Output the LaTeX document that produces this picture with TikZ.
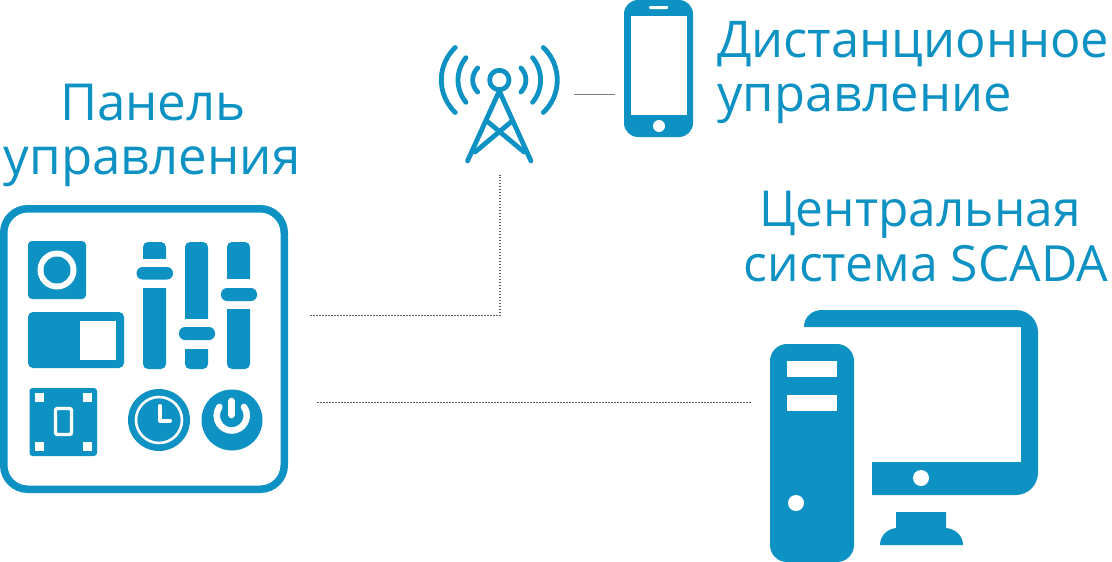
\documentclass[tikz,border=0pt]{standalone}
\usepackage{fontspec}
\setmainfont{Open Sans}
\definecolor{brand}{HTML}{0E92C3}
\definecolor{wire}{HTML}{5E5E5E}
\tikzset{
  solid blue/.style={fill=brand,draw=none},
  knockout/.style={fill=white,draw=none},
  blue line/.style={draw=brand,line width=4.8pt,line cap=round,line join=round},
  label text/.style={text=brand,inner sep=0pt,anchor=base},
  dotted wire/.style={draw=wire,line width=1.2pt,dash pattern=on 1.5pt off 1.5pt},
  plain wire/.style={draw=wire!80,line width=1pt}
}
\begin{document}
\begin{tikzpicture}[x=1pt,y=-1pt]
\useasboundingbox (0,0) rectangle (1112,562);
% labels
\node[label text,font=\fontsize{51}{51}\selectfont] (t1) at (153,120) {Панель};
\node[label text,font=\fontsize{51}{51}\selectfont] (t2) at (152,174) {управления};
\node[label text,anchor=base west,font=\fontsize{50.6}{51}\selectfont] (t3) at (717,57) {Дистанционное};
\node[label text,anchor=base west,font=\fontsize{50.6}{51}\selectfont] (t4) at (717,111) {управление};
\node[label text,font=\fontsize{49.6}{51}\selectfont] (t5) at (920,226) {Центральная};
\node[label text,font=\fontsize{49.9}{51}\selectfont] (t6) at (926,281) {система SCADA};
% panel
\draw[draw=brand,line width=7.5pt,rounded corners=24pt] (3.75,208.75) rectangle (284.25,489.25);
\fill[solid blue,rounded corners=4pt] (28,241) rectangle (86,299);
\fill[knockout] (57,270) circle (19.5);
\fill[solid blue] (57,270) circle (13.5);
\fill[solid blue,rounded corners=5pt] (28,312) rectangle (124,368);
\fill[knockout] (80,321) rectangle (116,360);
% sliders
\fill[solid blue,rounded corners=5pt] (143,242) rectangle (166,369);
\fill[solid blue,rounded corners=5pt] (185,242) rectangle (208,369);
\fill[solid blue,rounded corners=5pt] (227,242) rectangle (250,369);
\fill[knockout] (140,259) rectangle (170,288);
\fill[knockout] (182,319) rectangle (212,349);
\fill[knockout] (224,279) rectangle (254,309);
\fill[solid blue,rounded corners=6pt] (136.5,267) rectangle (173,279.5);
\fill[solid blue,rounded corners=6pt] (179,327) rectangle (215,340);
\fill[solid blue,rounded corners=6pt] (221,288) rectangle (257,301);
% small square
\fill[solid blue,rounded corners=3pt] (29.5,388) rectangle (97,456);
\fill[knockout] (34.5,393) rectangle (43.5,402);
\fill[knockout] (83,393) rectangle (92,402);
\fill[knockout] (34.5,442) rectangle (43.5,451);
\fill[knockout] (83,442) rectangle (92,451);
\draw[draw=white,line width=3.4pt,rounded corners=2pt] (55.5,408.5) rectangle (71.5,434.5);
% clock
\fill[solid blue] (159,420) circle (31);
\draw[draw=white,line width=2.6pt] (159,420) circle (23);
\draw[draw=white,line width=4pt,line cap=round,line join=round] (160,406) -- (160,420.5) -- (170,420.5);
% power
\fill[solid blue] (232,420) circle (30.5);
\draw[draw=white,line width=6.5pt,line cap=round] ([shift={(-35:15)}]231.7,415.5) arc[start angle=-35,end angle=215,radius=15];
\draw[draw=white,line width=6.5pt,line cap=round] (231.7,401) -- (231.7,415);
% antenna
\coordinate (mast) at (499.3,80);
\draw[blue line] (mast) circle (9.7);
\draw[blue line] ([shift={(133.4:44.7)}]486,80) arc[start angle=133.4,end angle=226.6,radius=44.7];
\draw[blue line] ([shift={(140.4:35)}]493,80) arc[start angle=140.4,end angle=219.6,radius=35];
\draw[blue line] ([shift={(135:17)}]489.7,80) arc[start angle=135,end angle=225,radius=17];
\draw[blue line] ([shift={(-46.6:44.7)}]512.6,80) arc[start angle=-46.6,end angle=46.6,radius=44.7];
\draw[blue line] ([shift={(-39.6:35)}]505.6,80) arc[start angle=-39.6,end angle=39.6,radius=35];
\draw[blue line] ([shift={(-45:17)}]508.9,80) arc[start angle=-45,end angle=45,radius=17];
\draw[blue line] (467.5,161) -- (499.3,91) -- (531,161);
\draw[blue line] (488,122) -- (524,152);
\draw[blue line] (511,122) -- (475,152);
% phone
\fill[solid blue,rounded corners=14pt] (624,0) rectangle (693,137);
\fill[knockout] (631,16) rectangle (687,115);
\fill[knockout] (659,126) circle (6);
\fill[knockout,rounded corners=1pt] (649,6) rectangle (668,9);
% computer
\fill[solid blue] (804,327) .. controls (804,317) and (812,310) .. (822,310) -- (1016,310)
  .. controls (1028,310) and (1038,320) .. (1038,332) -- (1038,473)
  .. controls (1038,485) and (1028,495) .. (1016,495) -- (872,495) -- (872,462) -- (1021,462) -- (1021,327) -- cycle;
\fill[knockout] (921,478) circle (8);
\fill[solid blue] (896,512) -- (946,512) -- (946,528) .. controls (956,529) and (963,536) .. (963,545)
  -- (880,545) .. controls (880,536) and (887,529) .. (896,528) -- cycle;
\fill[solid blue,rounded corners=17pt] (770,344) rectangle (854,562);
\fill[knockout] (787,361) rectangle (837,377);
\fill[knockout] (787,395) rectangle (837,411);
\fill[knockout] (796,503) circle (8);
% connectors
\coordinate (panelA) at (310,315.3);
\coordinate (bend) at (500,315.3);
\coordinate (towerFoot) at (500,175);
\coordinate (panelB) at (317,402.3);
\coordinate (pcEnd) at (752,402.3);
\coordinate (towerSide) at (574,94.5);
\coordinate (phoneSide) at (615,94.5);
\draw[dotted wire] (panelA) -- (bend) -- (towerFoot);
\draw[dotted wire] (panelB) -- (pcEnd);
\draw[plain wire] (towerSide) -- (phoneSide);
\end{tikzpicture}
\end{document}
